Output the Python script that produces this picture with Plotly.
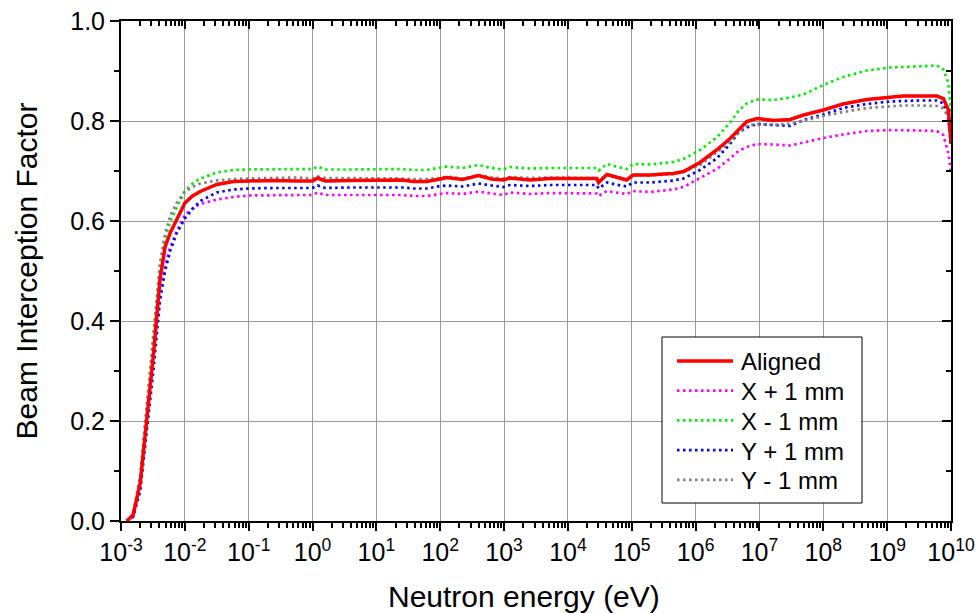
import plotly.graph_objects as go

# Neutron energy grid (eV)
energy_ev = [
    1.23e-3, 1.55e-3, 2.0e-3, 2.51e-3, 3.24e-3, 4.07e-3, 4.9e-3, 5.89e-3, 7.41e-3, 1.0e-2,
    1.32e-2, 1.74e-2, 3.16e-2, 5.75e-2, 0.1, 0.251, 0.562, 1.0, 1.2, 1.58,
    3.98, 10.0, 25.1, 38.0, 61.7, 100.0, 126.0, 224.0, 398.0, 631.0,
    977.0, 1230.0, 2570.0, 5250.0, 1.26e4, 2.82e4, 3.02e4, 4.07e4, 5.62e4, 8.32e4,
    1.05e5, 1.95e5, 3.16e5, 4.47e5, 6.46e5, 1.17e6, 2.14e6, 3.47e6, 4.68e6, 6.31e6,
    9.12e6, 1.66e7, 3.02e7, 4.9e7, 1.0e8, 2.04e8, 4.79e8, 1.1e9, 1.78e9, 3.16e9,
    6.03e9, 7.59e9, 9.12e9, 1.0e10,
]

# Beam interception factor for each beam position
aligned = [
    0.000, 0.012, 0.076, 0.202, 0.336, 0.482, 0.548, 0.576, 0.602, 0.636,
    0.650, 0.659, 0.673, 0.679, 0.680, 0.681, 0.680, 0.680, 0.686, 0.680,
    0.681, 0.682, 0.682, 0.679, 0.679, 0.684, 0.687, 0.683, 0.691, 0.684,
    0.682, 0.686, 0.682, 0.685, 0.685, 0.685, 0.677, 0.693, 0.688, 0.682,
    0.692, 0.692, 0.694, 0.695, 0.699, 0.717, 0.742, 0.765, 0.782, 0.799,
    0.805, 0.801, 0.803, 0.812, 0.822, 0.834, 0.843, 0.847, 0.850, 0.850,
    0.850, 0.845, 0.822, 0.755,
]
x_plus_1mm = [
    0.000, 0.010, 0.068, 0.190, 0.320, 0.455, 0.510, 0.548, 0.578, 0.612,
    0.625, 0.634, 0.643, 0.648, 0.651, 0.652, 0.652, 0.652, 0.657, 0.652,
    0.652, 0.652, 0.652, 0.650, 0.650, 0.654, 0.656, 0.654, 0.659, 0.655,
    0.652, 0.657, 0.654, 0.656, 0.656, 0.655, 0.650, 0.660, 0.657, 0.654,
    0.660, 0.658, 0.661, 0.663, 0.668, 0.686, 0.704, 0.725, 0.740, 0.748,
    0.754, 0.753, 0.751, 0.757, 0.766, 0.773, 0.780, 0.782, 0.782, 0.781,
    0.780, 0.772, 0.735, 0.695,
]
x_minus_1mm = [
    0.000, 0.013, 0.085, 0.215, 0.355, 0.500, 0.565, 0.598, 0.626, 0.660,
    0.675, 0.685, 0.697, 0.702, 0.703, 0.703, 0.704, 0.704, 0.709, 0.703,
    0.703, 0.704, 0.704, 0.702, 0.702, 0.707, 0.709, 0.706, 0.712, 0.706,
    0.703, 0.708, 0.705, 0.706, 0.706, 0.706, 0.701, 0.714, 0.709, 0.704,
    0.714, 0.713, 0.716, 0.718, 0.724, 0.742, 0.767, 0.797, 0.820, 0.835,
    0.843, 0.842, 0.847, 0.853, 0.872, 0.888, 0.901, 0.907, 0.908, 0.910,
    0.911, 0.903, 0.875, 0.815,
]
y_plus_1mm = [
    0.000, 0.008, 0.060, 0.175, 0.305, 0.440, 0.500, 0.540, 0.575, 0.605,
    0.624, 0.640, 0.657, 0.663, 0.665, 0.666, 0.666, 0.666, 0.671, 0.666,
    0.667, 0.667, 0.667, 0.665, 0.665, 0.670, 0.671, 0.669, 0.675, 0.671,
    0.668, 0.672, 0.670, 0.672, 0.672, 0.672, 0.665, 0.677, 0.673, 0.669,
    0.677, 0.677, 0.679, 0.681, 0.685, 0.702, 0.725, 0.754, 0.777, 0.787,
    0.794, 0.792, 0.790, 0.802, 0.813, 0.826, 0.834, 0.839, 0.840, 0.841,
    0.841, 0.835, 0.805, 0.749,
]
y_minus_1mm = [
    0.000, 0.015, 0.090, 0.225, 0.370, 0.515, 0.575, 0.610, 0.636, 0.658,
    0.668, 0.675, 0.681, 0.684, 0.685, 0.686, 0.687, 0.685, 0.689, 0.686,
    0.686, 0.686, 0.685, 0.684, 0.684, 0.686, 0.689, 0.685, 0.692, 0.687,
    0.685, 0.688, 0.686, 0.687, 0.687, 0.686, 0.681, 0.693, 0.689, 0.684,
    0.692, 0.691, 0.693, 0.694, 0.698, 0.712, 0.737, 0.758, 0.776, 0.790,
    0.794, 0.792, 0.795, 0.800, 0.810, 0.818, 0.826, 0.830, 0.831, 0.831,
    0.830, 0.825, 0.808, 0.762,
]

series_names = ["Aligned", "X + 1 mm", "X - 1 mm", "Y + 1 mm", "Y - 1 mm"]

# Axis ticks
decade_exponents = list(range(-3, 11))
x_major_vals = [10.0 ** k for k in decade_exponents]
x_major_text = [f"10<sup>{k}</sup>" for k in decade_exponents]
x_minor_vals = [m * 10.0 ** k for k in range(-3, 10) for m in range(2, 10)]

FONT = "Liberation Sans, Arial, sans-serif"
DOT = "2.5px,3.5px"

# Figure geometry (pixels)
W, H = 975, 613
L, R, T, B = 121, 24, 21, 92
PW, PH = W - L - R, H - T - B


def px_x(px):
    return (px - L) / PW


def px_y(py):
    return (H - B - py) / PH


styles = {
    "Aligned": dict(color="#FF0000", width=3.5),
    "X + 1 mm": dict(color="#FF00FF", width=2.7, dash=DOT),
    "X - 1 mm": dict(color="#00EE00", width=2.7, dash=DOT),
    "Y + 1 mm": dict(color="#0000FF", width=2.7, dash=DOT),
    "Y - 1 mm": dict(color="#808080", width=2.7, dash=DOT),
}
values = {
    "Aligned": aligned,
    "X + 1 mm": x_plus_1mm,
    "X - 1 mm": x_minus_1mm,
    "Y + 1 mm": y_plus_1mm,
    "Y - 1 mm": y_minus_1mm,
}

fig = go.Figure()

# dotted offsets first, aligned curve drawn on top
for name in series_names[1:] + series_names[:1]:
    fig.add_trace(go.Scatter(
        x=energy_ev, y=values[name], name=name, mode="lines",
        line=styles[name], showlegend=False,
    ))

# carrier for the mirrored top/right frame axes
fig.add_trace(go.Scatter(
    x=[1e-3], y=[0], xaxis="x2", yaxis="y2", mode="markers",
    marker=dict(opacity=0), showlegend=False, hoverinfo="skip",
))

# Legend box with line samples and labels
shapes = [dict(
    type="rect", xref="paper", yref="paper",
    x0=px_x(662), x1=px_x(862), y0=px_y(503), y1=px_y(337),
    line=dict(color="black", width=1), fillcolor="white", layer="above",
)]
annotations = []
for i, name in enumerate(series_names):
    yc = 361 + i * 29.7
    shapes.append(dict(
        type="line", xref="paper", yref="paper",
        x0=px_x(677), x1=px_x(733), y0=px_y(yc), y1=px_y(yc),
        line=styles[name], layer="above",
    ))
    annotations.append(dict(
        text=name, xref="paper", yref="paper", x=px_x(739), y=px_y(yc + 1),
        xanchor="left", yanchor="middle", showarrow=False,
        font=dict(size=24, family=FONT, color="black"),
    ))

# x-axis title
annotations.append(dict(
    text="Neutron energy (eV)", xref="paper", yref="paper",
    x=px_x(524), y=px_y(596), xanchor="center", yanchor="middle",
    showarrow=False, font=dict(size=30, family=FONT, color="black"),
))

axis_common = dict(showline=True, linewidth=2, linecolor="black",
                   tickcolor="black", zeroline=False, automargin=False)

fig.update_layout(
    width=W, height=H,
    margin=dict(l=L, r=R, t=T, b=B, autoexpand=False),
    paper_bgcolor="white", plot_bgcolor="white",
    font=dict(family=FONT, color="black"),
    showlegend=False,
    shapes=shapes,
    annotations=annotations,
    xaxis=dict(
        type="log", range=[-3, 10],
        tickmode="array", tickvals=x_major_vals, ticktext=x_major_text,
        ticks="outside", ticklen=8, tickwidth=2,
        showgrid=True, gridcolor="#999999", gridwidth=1,
        tickfont=dict(size=25),
        minor=dict(tickmode="array", tickvals=x_minor_vals, ticks="outside",
                   ticklen=5, tickwidth=1.5, tickcolor="black", showgrid=False),
        **axis_common,
    ),
    yaxis=dict(
        range=[0, 1], tick0=0, dtick=0.2, tickformat=".1f",
        ticks="outside", ticklen=9, tickwidth=2,
        showgrid=True, gridcolor="#999999", gridwidth=1,
        tickfont=dict(size=25),
        minor=dict(dtick=0.1, ticks="outside", ticklen=5, tickwidth=1.5,
                   tickcolor="black", showgrid=False),
        title=dict(text="Beam Interception Factor", font=dict(size=30), standoff=24),
        **axis_common,
    ),
    xaxis2=dict(
        type="log", range=[-3, 10], overlaying="x", side="top", anchor="y2",
        tickmode="array", tickvals=x_major_vals, ticks="inside", ticklen=8,
        tickwidth=2, showticklabels=False, showgrid=False,
        minor=dict(tickmode="array", tickvals=x_minor_vals, ticks="inside",
                   ticklen=5, tickwidth=1.5, tickcolor="black", showgrid=False),
        **axis_common,
    ),
    yaxis2=dict(
        range=[0, 1], overlaying="y", side="right", anchor="x2",
        tick0=0, dtick=0.2, ticks="inside", ticklen=9, tickwidth=2,
        showticklabels=False, showgrid=False,
        minor=dict(dtick=0.1, ticks="inside", ticklen=5, tickwidth=1.5,
                   tickcolor="black", showgrid=False),
        **axis_common,
    ),
)

fig.write_html("out.html")
